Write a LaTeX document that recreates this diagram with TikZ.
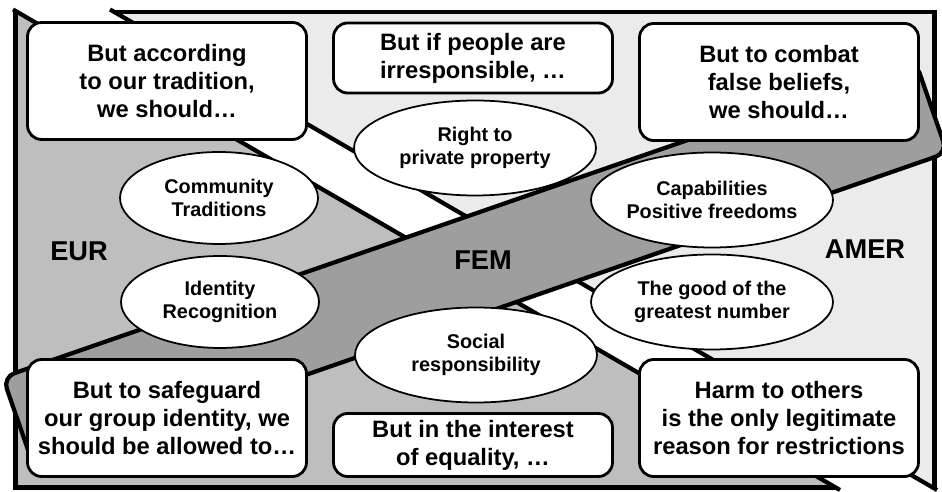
\documentclass[tikz,border=0pt]{standalone}
\usepackage{fontspec}
\setmainfont{Liberation Sans}
\usetikzlibrary{shapes.geometric}
\definecolor{EurGray}{RGB}{190,190,190}
\definecolor{AmerGray}{RGB}{235,235,235}
\definecolor{FemGray}{RGB}{158,158,158}

\begin{document}
\begin{tikzpicture}[x=0.02cm,y=-0.02cm,
    claim/.style={draw,line width=1.6pt,rounded corners=8pt,fill=white,align=center,inner sep=2pt,minimum width=5.58cm,font=\fontsize{13.5}{16}\selectfont\bfseries},
    value/.style={ellipse,draw,line width=1pt,fill=white,align=center,inner sep=0pt,minimum width=4.84cm,minimum height=1.9cm,font=\fontsize{11.3}{13}\selectfont\bfseries},
    region/.style={inner sep=0pt,font=\fontsize{15.5}{18}\selectfont\bfseries},
    bandline/.style={line width=2.4pt}
  ]
    \useasboundingbox (0,0) rectangle (942,492);
    \fill[AmerGray] (15,12) rectangle (935,488);
    \fill[EurGray] (13,9.5) -- (840,490) -- (13,490) -- cycle;
    \draw[line width=2.8pt] (15.5,12) rectangle (934.5,487.5);
    \fill[white] (13,9.5) -- (110,9.5) -- (937,490) -- (840,490) -- cycle;
    \draw[bandline] (13,9.5) -- (840,490);
    \draw[bandline] (110,9.5) -- (937,490);
    \node[draw,bandline,fill=FemGray,rounded corners=7pt,rotate=19.1,minimum width=19.32cm,minimum height=1.94cm] (band) at (475,265) {};

    \node[region] (eur) at (79,251) {EUR};
    \node[region] (fem) at (483,260) {FEM};
    \node[region] (amer) at (865,249) {AMER};

    \node[value,minimum width=3.96cm,minimum height=1.84cm] (community) at (219,198) {Community\\Traditions};
    \node[value,minimum width=3.96cm,minimum height=1.84cm] (identity) at (220,302) {Identity\\Recognition};
    \node[value] (property) at (475,148) {Right to\\private property};
    \node[value] (social) at (476,355) {Social\\responsibility};
    \node[value] (capabilities) at (712,200) {Capabilities\\Positive freedoms};
    \node[value] (greatest) at (712,302) {The good of the\\greatest number};

    \node[claim,minimum height=2.34cm] (tradition) at (167,81) {But according\\to our tradition,\\we should…};
    \node[claim,minimum height=1.4cm] (irresponsible) at (473,58) {But if people are\\irresponsible, …};
    \node[claim,minimum height=2.34cm] (beliefs) at (779,82) {But to combat\\false beliefs,\\we should…};
    \node[claim,minimum height=2.34cm] (safeguard) at (167,418) {But to safeguard\\our group identity, we\\should be allowed to…};
    \node[claim,minimum height=1.26cm] (equality) at (473,445) {But in the interest\\of equality, …};
    \node[claim,minimum height=2.34cm] (harm) at (779,418) {Harm to others\\is the only legitimate\\reason for restrictions};
  \end{tikzpicture}
\end{document}
